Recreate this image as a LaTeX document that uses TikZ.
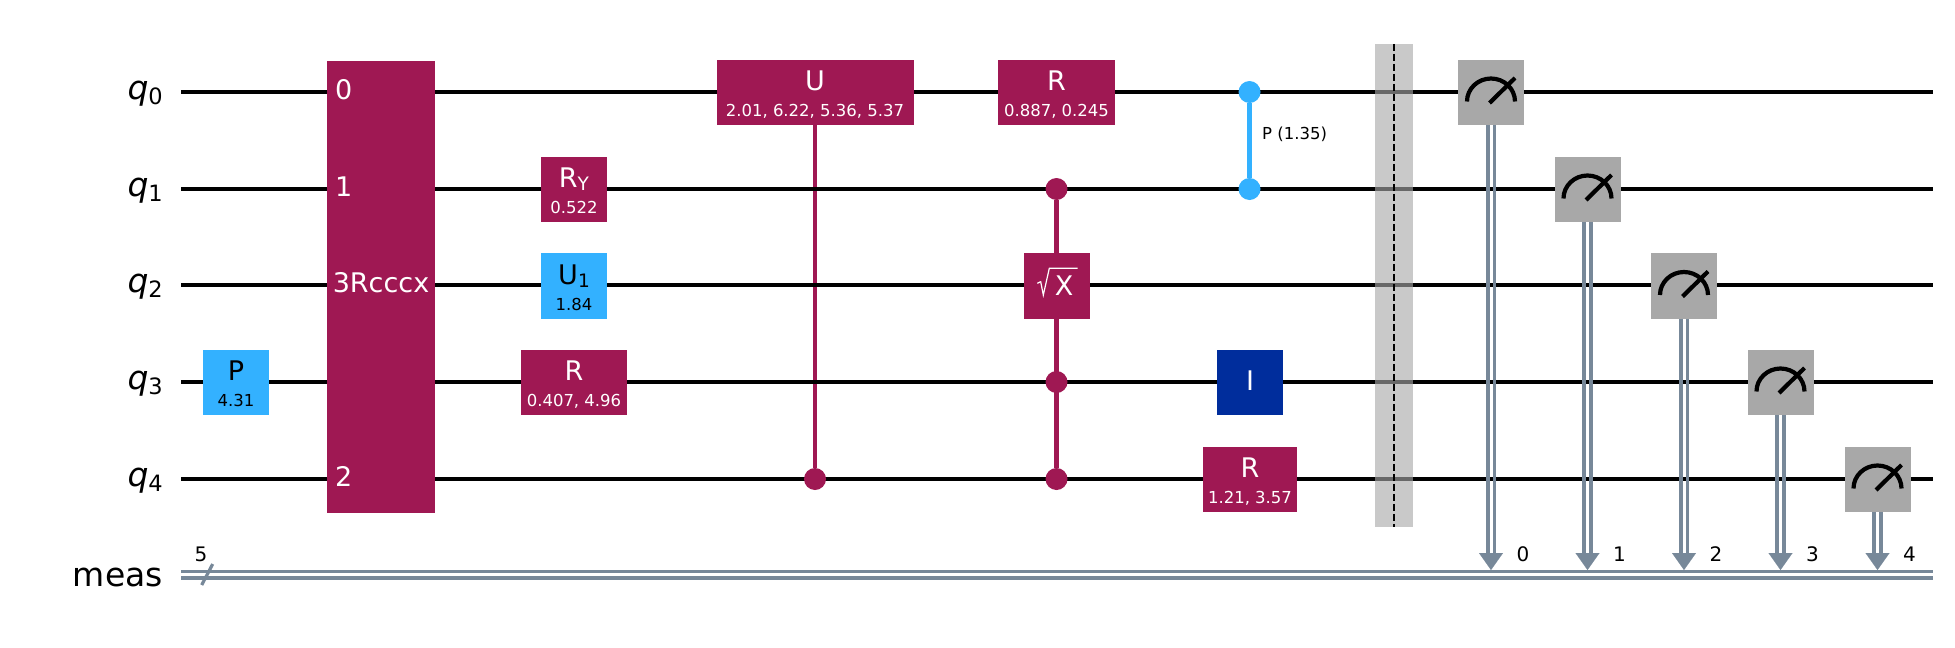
\documentclass[tikz,border=0pt]{standalone}
\usepackage{fontspec}
\setmainfont{DejaVu Sans}
\usetikzlibrary{arrows.meta, backgrounds}
\definecolor{gatemag}{HTML}{9F1853}
\definecolor{gatesky}{HTML}{33B1FF}
\definecolor{gatenavy}{HTML}{002D9C}
\definecolor{gatemeas}{HTML}{A8A8A8}
\definecolor{bitgrey}{HTML}{778899}
\newcommand{\mainfs}{\fontsize{27}{26}\selectfont}
\newcommand{\subfs}{\fontsize{16.5}{26}\selectfont}
\newcommand{\bitfs}{\fontsize{20}{24}\selectfont}
\newcommand{\gatetwo}[2]{\rule{0pt}{26.5pt}#1\\{\subfs #2}\rule[-4.5pt]{0pt}{4.5pt}}
\newcommand{\gatesub}[2]{#1\raisebox{-3pt}{\fontsize{18.5}{18}\selectfont #2}}
\tikzset{
  wire/.style={line width=4.2pt, black},
  gate/.style={rectangle, minimum width=66pt, minimum height=65.5pt, inner sep=0pt, align=center, font=\mainfs, yshift=-0.5pt},
  maggate/.style={gate, fill=gatemag, text=white},
  skygate/.style={gate, fill=gatesky, text=black},
  navygate/.style={gate, fill=gatenavy, text=white},
  measgate/.style={gate, fill=gatemeas},
  magline/.style={line width=4.6pt, gatemag},
  skyline/.style={line width=4.6pt, gatesky},
  magdot/.style={circle, fill=gatemag, minimum size=22pt, inner sep=0pt},
  skydot/.style={circle, fill=gatesky, minimum size=22pt, inner sep=0pt},
  rowlabel/.style={anchor=base east, inner sep=0pt, font=\fontsize{33}{36}\selectfont},
  portlabel/.style={anchor=base west, inner sep=0pt, text=white, font=\mainfs},
  bitlabel/.style={inner sep=0pt, font=\bitfs},
  barrierbox/.style={rectangle, fill=gatemeas, fill opacity=0.62, minimum width=38pt, minimum height=483pt, inner sep=0pt},
  barrierline/.style={line width=2pt, black, dash pattern=on 7pt off 3pt},
  meter/.style={line width=4.2pt, black},
  bitline/.style={line width=3.6pt, bitgrey},
  bittip/.style={bitgrey, line width=0.1pt, -{Triangle[length=17pt, width=24pt]}},
  busline/.style={line width=3.6pt, draw=bitgrey, double=white, double distance=2.6pt},
  slashline/.style={line width=3.2pt, bitgrey},
  radical/.style={line width=1.2pt, white},
}
\begin{document}
\begin{tikzpicture}[x=1pt, y=-1pt]
	\useasboundingbox (0,0) rectangle (1955,648);

	\foreach \i/\y in {0/92, 1/189, 2/285, 3/382, 4/479} {
		\coordinate (w\i s) at (181,\y);
		\coordinate (w\i e) at (1933,\y);
		\node (q\i) [rowlabel] at (163,\y+7) {\textit{q}\raisebox{-5pt}{\fontsize{22.5}{24}\selectfont \i}};
	}
	\node (meas) [rowlabel] at (163,586) {meas};

	\node (pgate) [skygate] at (236,382) {\gatetwo{P}{4.31}};
	\node (rcccx) [maggate, minimum width=108pt, minimum height=452pt, text height=20pt, text depth=8pt] at (381,286) {3Rcccx};
	\node (port0) [portlabel] at (335,99) {0};
	\node (port1) [portlabel] at (335,196) {1};
	\node (port2) [portlabel] at (335,486) {2};

	\node (rygate) [maggate] at (574,189) {\gatetwo{\gatesub{R}{Y}}{0.522}};
	\node (u1gate) [skygate] at (574,285.5) {\gatetwo{\gatesub{U}{1}}{1.84}};
	\node (rgatea) [maggate, minimum width=106pt] at (574,382) {\gatetwo{R}{0.407, 4.96}};

	\node (ugate) [maggate, minimum width=197pt] at (815,92) {\gatetwo{U}{2.01, 6.22, 5.36, 5.37}};
	\node (uctl) [magdot] at (815,479) {};

	\node (rgateb) [maggate, minimum width=117pt] at (1056.5,92) {\gatetwo{R}{0.887, 0.245}};
	\node (sxa) [magdot] at (1056.5,189) {};
	\node (sxgate) [maggate, text height=20pt, text depth=2pt] at (1057,285.5) {\hspace*{14pt}X};
	\draw [radical] ([shift={(-19.7,-2.7)}]sxgate.center) -- ++(3.4,-1.6) -- ++(2.6,13.3) -- ++(6,-26.7) -- ++(28.4,0);
	\node (sxb) [magdot] at (1056.5,382) {};
	\node (sxc) [magdot] at (1056.5,479) {};

	\node (pa) [skydot] at (1249.5,92) {};
	\node (pb) [skydot] at (1249.5,189) {};
	\node (plabel) [anchor=west, inner sep=0pt, font=\subfs] at (1262,134) {P (1.35)};

	\node (igate) [navygate, text height=20pt, text depth=4pt] at (1250,382) {I};
	\node (rgatec) [maggate, minimum width=94pt] at (1250,479) {\gatetwo{R}{1.21, 3.57}};

	\node (barrier) [barrierbox] at (1394,285.5) {};
	\draw [barrierline] (barrier.north) -- (barrier.south);

	\coordinate (bars) at (181,570);
	\coordinate (buss) at (181,574.7);
	\coordinate (buse) at (1933,574.7);
	\foreach \i/\x/\y in {0/1491/92, 1/1587.5/189, 2/1684/285.5, 3/1780.5/382, 4/1877.5/479} {
		\node (m\i) [measgate] at (\x,\y) {};
		\draw [meter] ([shift={(-24,9)}]m\i.center) arc [start angle=180, end angle=0, x radius=24pt, y radius=23pt];
		\draw [meter] ([shift={(-1.5,10.5)}]m\i.center) -- ([shift={(24,-14.5)}]m\i.center);
		\coordinate (b\i) at (m\i.south |- bars);
		\node (c\i) [bitlabel] at (\x+32,554) {\i};
	}

	\begin{pgfonlayer}{background}
		\draw [magline] (ugate) -- (uctl);
		\draw [magline] (sxa) -- (sxc);
		\draw [skyline] (pa) -- (pb);
		\foreach \i in {0,...,4} {
			\draw [wire] (w\i s) -- (w\i e);
		}
	\end{pgfonlayer}

	\draw [busline] (buss) -- (buse);
	\foreach \i in {0,...,4} {
		\draw [bitline] ([xshift=-3.3pt]m\i.south) -- ([shift={(-3.3pt,10pt)}]b\i);
		\draw [bitline] ([xshift=3.3pt]m\i.south) -- ([shift={(3.3pt,10pt)}]b\i);
		\draw [bittip] ([yshift=17pt]b\i) -- (b\i);
	}

	\coordinate (slasha) at (201.7,585);
	\coordinate (slashb) at (212.7,564);
	\draw [slashline] (slasha) -- (slashb);
	\node (bitcount) [bitlabel] at (201,554) {5};
\end{tikzpicture}
\end{document}
